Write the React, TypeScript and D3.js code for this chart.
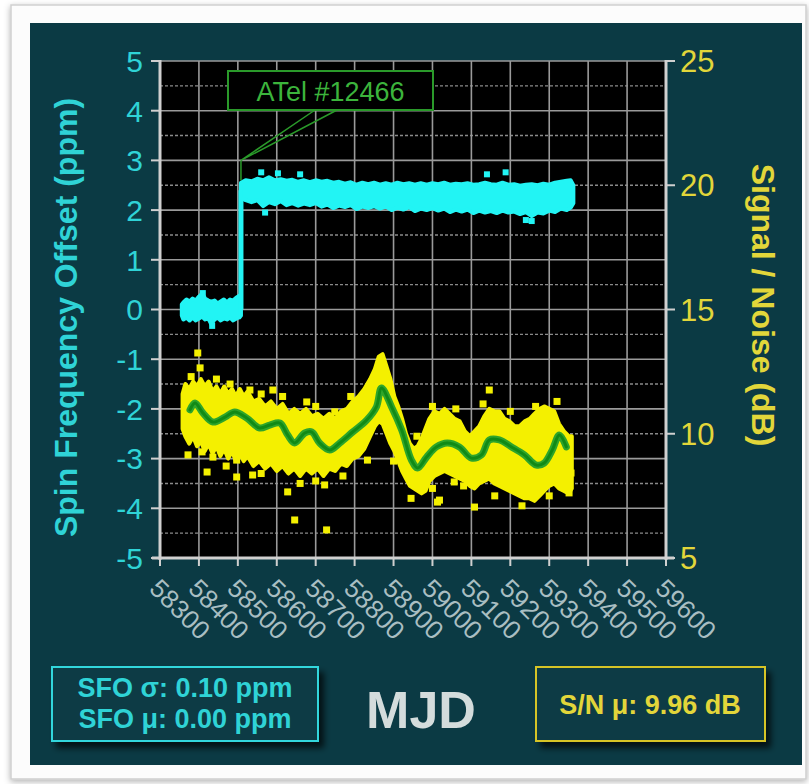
import React from 'react';
import * as d3 from 'd3';

// ---------- data ----------
const xTicks = [58300, 58400, 58500, 58600, 58700, 58800, 58900, 59000, 59100, 59200, 59300, 59400, 59500, 59600];
const leftTicks = [5, 4, 3, 2, 1, 0, -1, -2, -3, -4, -5];
const rightTicks = [25, 20, 15, 10, 5];

// Spin frequency offset (ppm) envelope before glitch: [MJD, low, high]
const sfoPre: [number, number, number][] = [
  [58356, -0.12, 0.1], [58360, -0.2, 0.14], [58368, -0.16, 0.2], [58376, -0.22, 0.16],
  [58384, -0.16, 0.22], [58392, -0.22, 0.18], [58400, -0.18, 0.26], [58408, -0.14, 0.32],
  [58416, -0.2, 0.22], [58424, -0.18, 0.18], [58432, -0.3, 0.16], [58440, -0.2, 0.18],
  [58448, -0.16, 0.12], [58456, -0.22, 0.16], [58464, -0.18, 0.2], [58472, -0.2, 0.14],
  [58480, -0.16, 0.2], [58488, -0.22, 0.18], [58496, -0.18, 0.24], [58504, -0.16, 0.28],
  [58508, -0.12, 0.22],
];
// after glitch
const sfoPost: [number, number, number][] = [
  [58508, 2.25, 2.55], [58520, 2.2, 2.6], [58535, 2.16, 2.58], [58550, 2.2, 2.63],
  [58565, 2.08, 2.6], [58580, 2.16, 2.66], [58595, 2.12, 2.6], [58610, 2.18, 2.62],
  [58625, 2.1, 2.59], [58640, 2.14, 2.61], [58655, 2.09, 2.57], [58670, 2.13, 2.6],
  [58685, 2.1, 2.56], [58700, 2.14, 2.6], [58715, 2.07, 2.57], [58730, 2.11, 2.59],
  [58745, 2.04, 2.55], [58760, 2.09, 2.57], [58775, 2.06, 2.53], [58790, 2.1, 2.56],
  [58805, 2.02, 2.51], [58820, 2.07, 2.55], [58835, 2.04, 2.52], [58850, 2.08, 2.55],
  [58865, 2.03, 2.51], [58880, 2.07, 2.54], [58895, 2.0, 2.51], [58910, 2.05, 2.55],
  [58925, 2.01, 2.52], [58940, 2.06, 2.54], [58955, 1.98, 2.51], [58970, 2.03, 2.54],
  [58985, 2.0, 2.51], [59000, 2.04, 2.54], [59015, 1.99, 2.52], [59030, 2.03, 2.55],
  [59045, 1.96, 2.51], [59060, 2.01, 2.53], [59075, 1.97, 2.52], [59090, 2.01, 2.54],
  [59105, 1.94, 2.51], [59120, 1.99, 2.52], [59135, 1.95, 2.55], [59150, 1.98, 2.52],
  [59165, 1.94, 2.51], [59180, 1.99, 2.55], [59195, 1.95, 2.51], [59210, 1.97, 2.52],
  [59225, 1.92, 2.49], [59240, 1.96, 2.51], [59255, 1.88, 2.52], [59270, 1.95, 2.5],
  [59285, 1.93, 2.53], [59300, 1.99, 2.51], [59315, 1.96, 2.55], [59330, 2.03, 2.57],
  [59345, 2.0, 2.59], [59355, 2.05, 2.6], [59362, 2.14, 2.5],
];
const sfoSpikes: [number, number][] = [
  [58560, 2.76], [58603, 2.74], [58660, 2.72], [59140, 2.72], [59188, 2.76],
  [59240, 1.8], [59255, 1.78], [58570, 1.95], [58410, 0.33], [58434, -0.33],
];
const glitchMjd = 58508;
const glitchFrom = 0;
const glitchTo = 2.4;

// Signal / Noise (dB) scatter envelope: [MJD, low, high]
const snBand: [number, number, number][] = [
  [58358, 10.2, 11.6], [58365, 9.9, 12.0], [58375, 9.6, 11.8], [58385, 9.9, 12.1],
  [58395, 9.5, 11.9], [58405, 9.7, 12.2], [58415, 9.3, 11.9], [58425, 9.6, 12.1],
  [58435, 9.2, 11.7], [58445, 9.5, 11.9], [58455, 9.1, 11.6], [58465, 9.4, 11.9],
  [58475, 9.0, 11.6], [58485, 9.3, 11.8], [58495, 8.9, 11.5], [58505, 9.2, 11.8],
  [58515, 8.9, 11.5], [58525, 9.1, 11.7], [58540, 8.7, 11.3], [58555, 8.9, 11.4],
  [58570, 8.6, 11.1], [58585, 8.8, 11.3], [58600, 8.5, 11.0], [58615, 8.7, 11.2],
  [58630, 8.4, 10.8], [58645, 8.6, 11.0], [58660, 8.3, 10.8], [58675, 8.6, 11.0],
  [58690, 8.4, 10.7], [58705, 8.6, 10.8], [58720, 8.3, 10.6], [58735, 8.6, 10.8],
  [58750, 8.5, 10.6], [58765, 8.8, 10.9], [58780, 8.7, 11.0], [58795, 9.0, 11.3],
  [58810, 9.1, 11.5], [58825, 9.4, 11.8], [58840, 9.9, 12.2], [58852, 10.3, 12.6],
  [58862, 10.5, 13.1], [58872, 10.4, 13.2], [58882, 10.0, 12.7], [58892, 9.6, 12.2],
  [58902, 9.3, 11.5], [58912, 8.9, 11.1], [58922, 8.5, 10.6], [58932, 8.2, 10.0],
  [58942, 7.9, 9.6], [58952, 7.8, 9.4], [58962, 7.7, 9.5], [58972, 7.6, 9.8],
  [58982, 7.7, 10.2], [58992, 8.1, 10.6], [59005, 8.3, 10.9], [59018, 8.4, 10.8],
  [59031, 8.5, 11.0], [59044, 8.4, 10.8], [59057, 8.3, 10.6], [59070, 8.2, 10.5],
  [59083, 8.1, 10.1], [59096, 7.9, 9.9], [59108, 7.8, 10.1], [59120, 8.0, 10.3],
  [59133, 8.1, 10.7], [59146, 8.2, 11.0], [59159, 8.0, 10.9], [59172, 7.9, 10.9],
  [59185, 7.8, 10.6], [59198, 7.7, 10.5], [59211, 7.6, 10.3], [59224, 7.5, 10.3],
  [59237, 7.4, 10.5], [59250, 7.4, 10.6], [59262, 7.3, 10.8], [59275, 7.5, 11.0],
  [59287, 7.7, 11.1], [59300, 7.9, 11.0], [59313, 8.0, 10.9], [59325, 7.8, 10.4],
  [59338, 7.7, 10.1], [59350, 7.6, 9.9], [59358, 7.8, 9.9],
];
const snOutliers: [number, number][] = [
  [58397, 13.25], [58403, 12.65], [58372, 9.15], [58408, 9.27], [58436, 9.06],
  [58421, 8.46], [58497, 8.26], [58497, 8.94], [58538, 8.34], [58590, 11.76],
  [58677, 11.28], [58628, 7.66], [58646, 6.53], [58723, 7.94], [58728, 6.13],
  [58833, 8.94], [58749, 10.88], [58531, 11.76], [59146, 11.76], [59013, 7.25],
  [59056, 8.06], [59108, 7.05], [59351, 7.62], [59356, 8.42], [59018, 7.33],
  [58380, 12.3], [58445, 12.2], [58480, 12.0], [58560, 11.6], [58615, 11.5],
  [58700, 11.1], [58790, 11.5], [58960, 9.9], [59000, 11.1], [59060, 11.0],
  [59130, 11.2], [59200, 10.9], [59265, 11.1], [59320, 11.3], [58470, 8.7],
  [58560, 8.4], [58660, 8.0], [58700, 8.1], [58770, 8.3], [58900, 8.9],
  [58945, 7.4], [59000, 7.8], [59080, 7.9], [59160, 7.5], [59230, 7.1], [59300, 7.5],
];
// Smoothed S/N (green line): MJD and dB
const snSmoothMjd = [58377, 58390, 58410, 58436, 58467, 58492, 58523, 58556, 58582, 58608, 58628, 58646, 58672, 58690, 58710, 58736, 58762, 58795, 58831, 58856, 58869, 58895, 58921, 58946, 58962, 58985, 59010, 59038, 59069, 59100, 59126, 59146, 59172, 59203, 59236, 59267, 59287, 59308, 59326, 59344];
const snSmoothDb = [10.96, 11.24, 10.84, 10.47, 10.67, 10.88, 10.63, 10.23, 10.35, 10.43, 9.95, 9.63, 10.03, 10.07, 9.63, 9.35, 9.63, 10.07, 10.55, 11.08, 11.84, 11.08, 10.15, 8.94, 8.62, 9.06, 9.47, 9.63, 9.47, 9.02, 9.15, 9.75, 9.75, 9.47, 9.15, 8.74, 8.82, 9.35, 9.95, 9.47];

const atelLabel = 'ATel #12466';
const atelMjd = 58508;
const atelTip = 3.0;
const atelBase = 2.6;

const sfoSigmaText = 'SFO σ: 0.10 ppm';
const sfoMuText = 'SFO μ: 0.00 ppm';
const snMuText = 'S/N μ: 9.96 dB';

// ---------- layout ----------
const W = 809, H = 784;
const PL = 160, PR = 666, PT = 61, PB = 558;
const FONT = '"Liberation Sans", Arial, sans-serif';
const PANEL = '#0b3a44';
const CYAN_TXT = '#2fd3d6';
const YEL_TXT = '#e2d63a';
const CYAN = '#22f4f4';
const YEL = '#f4f000';

export default function App() {
  const x = d3.scaleLinear().domain([58300, 59600]).range([PL, PR]);
  const yL = d3.scaleLinear().domain([-5, 5]).range([PB, PT]);
  const yR = d3.scaleLinear().domain([5, 25]).range([PB, PT]);

  const gridH = d3.range(-5, 5.01, 0.5);

  const sfoArea = d3.area<[number, number, number]>()
    .x(d => x(d[0])).y0(d => yL(d[1])).y1(d => yL(d[2])).curve(d3.curveLinear);
  const snArea = d3.area<[number, number, number]>()
    .x(d => x(d[0])).y0(d => yR(d[1])).y1(d => yR(d[2])).curve(d3.curveLinear);
  const smoothPts: [number, number][] = snSmoothMjd.map((m, i) => [m, snSmoothDb[i]]);
  const snLine = d3.line<[number, number]>().x(d => x(d[0])).y(d => yR(d[1])).curve(d3.curveCatmullRom.alpha(0.5));

  const tipX = x(atelMjd), tipY = yL(atelTip);
  const boxX = 228, boxY = 71, boxW = 205, boxH = 39;

  return (
    <svg width={W} height={H} style={{ position: 'absolute', left: 0, top: 0 }} fontFamily={FONT}>
      <defs>
        <filter id="cardsh" x="-5%" y="-5%" width="110%" height="110%">
          <feDropShadow dx="0" dy="2" stdDeviation="3" floodColor="#000" floodOpacity="0.3" />
        </filter>
        <filter id="boxsh" x="-10%" y="-20%" width="130%" height="150%">
          <feDropShadow dx="5" dy="6" stdDeviation="3" floodColor="#000" floodOpacity="0.7" />
        </filter>
        <clipPath id="plotclip"><rect x={PL} y={PT} width={PR - PL} height={PB - PT} /></clipPath>
      </defs>
      <rect x={0} y={0} width={W} height={H} fill="#ffffff" />
      <rect x={11} y={5} width={795} height={774} fill="#fcfcfc" stroke="#cfcfcf" strokeWidth={1.5} filter="url(#cardsh)" />
      <rect x={30} y={23} width={772} height={742} fill={PANEL} />

      {/* plot background */}
      <rect x={PL} y={PT} width={PR - PL} height={PB - PT} fill="#000" />

      {/* grid */}
      {gridH.map(v => (
        <line key={'h' + v} x1={PL} x2={PR} y1={yL(v)} y2={yL(v)}
          stroke={Number.isInteger(v) ? '#9a9a9a' : '#8a8a8a'} strokeWidth={Number.isInteger(v) ? 1.6 : 1.4}
          strokeDasharray={Number.isInteger(v) ? undefined : '3,2'} />
      ))}
      {xTicks.map(t => (
        <line key={'v' + t} x1={x(t)} x2={x(t)} y1={PT} y2={PB} stroke="#9a9a9a" strokeWidth={1.6} />
      ))}

      <g clipPath="url(#plotclip)">
        {/* S/N scatter */}
        <path d={snArea(snBand) || ''} fill={YEL} stroke={YEL} strokeWidth={4} strokeLinejoin="round" />
        {snOutliers.map((d, i) => (
          <rect key={'o' + i} x={x(d[0]) - 3.5} y={yR(d[1]) - 3.5} width={7} height={7} fill={YEL} />
        ))}
        {/* smoothed S/N */}
        <path d={snLine(smoothPts) || ''} fill="none" stroke="#2ea52a" strokeWidth={7} strokeLinecap="round" strokeLinejoin="round" />
        <path d={snLine(smoothPts) || ''} fill="none" stroke="#118a16" strokeWidth={3} strokeLinecap="round" strokeLinejoin="round" />

        {/* SFO */}
        <path d={sfoArea(sfoPre) || ''} fill={CYAN} stroke={CYAN} strokeWidth={4} strokeLinejoin="round" />
        <line x1={x(glitchMjd)} x2={x(glitchMjd)} y1={yL(glitchFrom)} y2={yL(glitchTo)} stroke={CYAN} strokeWidth={5} />
        <path d={sfoArea(sfoPost) || ''} fill={CYAN} stroke={CYAN} strokeWidth={4} strokeLinejoin="round" />
        {sfoSpikes.map((d, i) => (
          <rect key={'s' + i} x={x(d[0]) - 3} y={yL(d[1]) - 3} width={6} height={6} fill={CYAN} />
        ))}
      </g>

      {/* annotation */}
      <path d={`M${boxX + 87},${boxY + boxH} L${tipX},${tipY} L${boxX + 109},${boxY + boxH}`} fill="none" stroke="#2a9a2a" strokeWidth={1.5} />
      <line x1={tipX} x2={tipX} y1={tipY} y2={yL(atelBase)} stroke="#2a9a2a" strokeWidth={1.5} />
      <rect x={boxX} y={boxY} width={boxW} height={boxH} fill="#000" stroke="#2a9a2a" strokeWidth={2} />
      <text x={boxX + boxW / 2} y={boxY + 30} textAnchor="middle" fontSize={27} fill="#3cb43c">{atelLabel}</text>

      {/* axes */}
      <line x1={PL} x2={PL} y1={PT - 1} y2={PB + 2} stroke="#d0d0d0" strokeWidth={3} />
      <line x1={PR} x2={PR} y1={PT - 1} y2={PB + 2} stroke="#d0d0d0" strokeWidth={3} />
      <line x1={PL - 8} x2={PR + 8} y1={PB} y2={PB} stroke="#d0d0d0" strokeWidth={3} />
      {leftTicks.map(t => (
        <g key={'lt' + t}>
          <line x1={PL - 9} x2={PL} y1={yL(t)} y2={yL(t)} stroke="#d0d0d0" strokeWidth={2} />
          <text x={143} y={yL(t)} dy="0.36em" textAnchor="end" fontSize={30} fill={CYAN_TXT}>{t < 0 ? '-' + Math.abs(t) : String(t)}</text>
        </g>
      ))}
      {rightTicks.map(t => (
        <g key={'rt' + t}>
          <line x1={PR} x2={PR + 9} y1={yR(t)} y2={yR(t)} stroke="#d0d0d0" strokeWidth={2} />
          <text x={680} y={yR(t)} dy="0.36em" textAnchor="start" fontSize={31} fill={YEL_TXT}>{t}</text>
        </g>
      ))}
      {xTicks.map(t => (
        <g key={'xt' + t}>
          <line x1={x(t)} x2={x(t)} y1={PB} y2={PB + 8} stroke="#d0d0d0" strokeWidth={2} />
          <text transform={`translate(${x(t) - 12},${590}) rotate(45)`} textAnchor="start" fontSize={26} fill="#a9bec2">{t}</text>
        </g>
      ))}

      {/* axis titles */}
      <text transform={`translate(77,${(PT + PB) / 2 + 8}) rotate(-90)`} textAnchor="middle" fontSize={32} fontWeight="bold" fill={CYAN_TXT}>Spin Frequency Offset (ppm)</text>
      <text transform={`translate(752,${305}) rotate(90)`} textAnchor="middle" fontSize={32} fontWeight="bold" fill={YEL_TXT}>Signal / Noise (dB)</text>

      {/* bottom boxes */}
      <rect x={52} y={667} width={266} height={74} fill={PANEL} stroke="#33d6dc" strokeWidth={2} filter="url(#boxsh)" />
      <text x={185} y={697} textAnchor="middle" fontSize={27} fontWeight="bold" fill={CYAN_TXT}>{sfoSigmaText}</text>
      <text x={185} y={728} textAnchor="middle" fontSize={27} fontWeight="bold" fill={CYAN_TXT}>{sfoMuText}</text>
      <text x={421} y={728} textAnchor="middle" fontSize={52} fontWeight="bold" fill="#d4dcdc">MJD</text>
      <rect x={536} y={667} width={229} height={74} fill={PANEL} stroke="#d6c428" strokeWidth={2} filter="url(#boxsh)" />
      <text x={650} y={714} textAnchor="middle" fontSize={27} fontWeight="bold" fill={YEL_TXT}>{snMuText}</text>
    </svg>
  );
}
